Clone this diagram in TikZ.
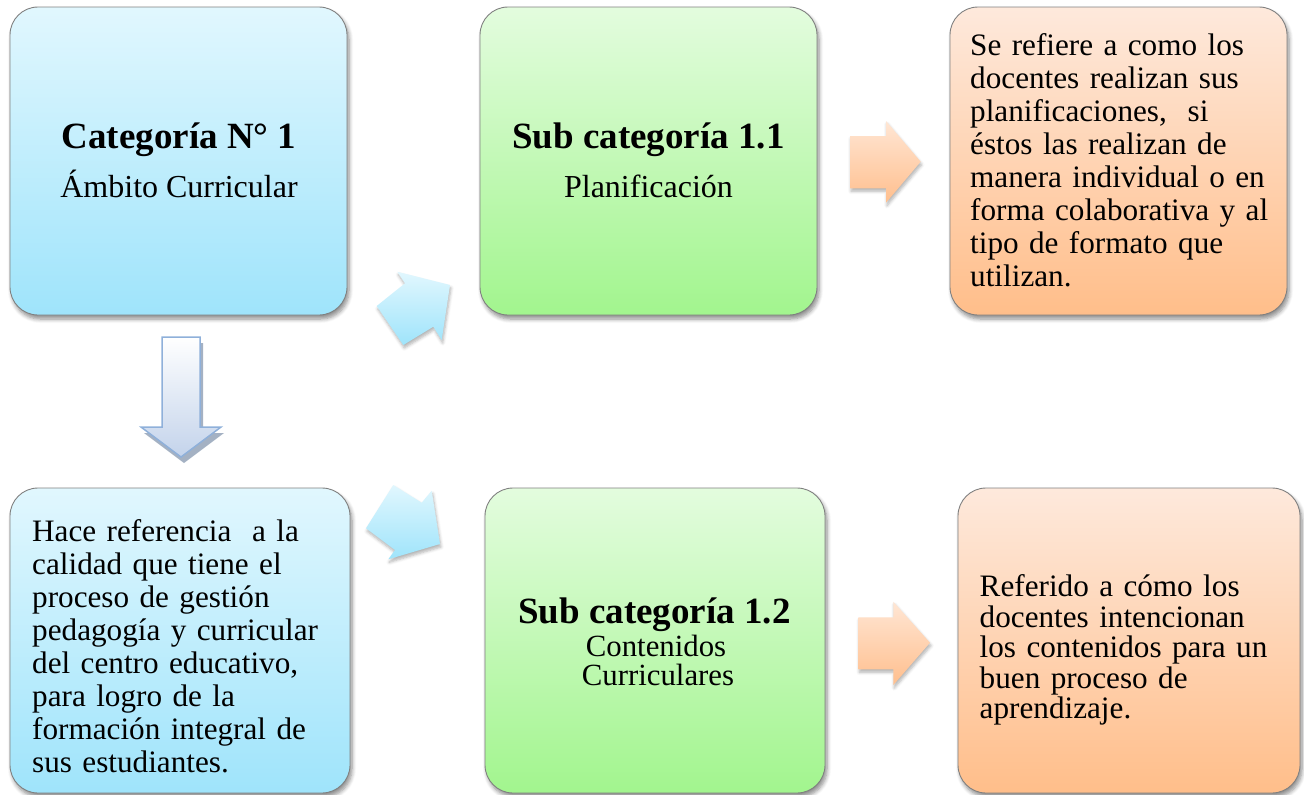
\documentclass[tikz,border=0pt]{standalone}
\usepackage{fontspec}
\setmainfont{Liberation Serif}
\usetikzlibrary{shadows,shadows.blur}
\definecolor{bluetop}{HTML}{E1F7FE}
\definecolor{bluebot}{HTML}{9FE4FB}
\definecolor{greentop}{HTML}{E3FCDE}
\definecolor{greenbot}{HTML}{A2F58E}
\definecolor{orangetop}{HTML}{FEE9DC}
\definecolor{orangebot}{HTML}{FFBE8A}
\definecolor{arrtop}{HTML}{FFE6D4}
\definecolor{arrbot}{HTML}{FFBF8E}
\definecolor{darrtop}{HTML}{FFFFFF}
\definecolor{darrbot}{HTML}{C3D3EB}
\definecolor{darrline}{HTML}{8FB0DA}
\definecolor{darrshadow}{HTML}{9AA9BD}
\begin{document}
\begin{tikzpicture}[x=1pt,y=-1pt,
  box/.style={draw=black!50, line width=0.9pt, rounded corners=28pt, inner sep=0,
    blur shadow={shadow xshift=2pt, shadow yshift=-4pt, shadow blur radius=4pt, shadow blur steps=6, shadow opacity=45}},
  bluebox/.style={box, top color=bluetop, bottom color=bluebot},
  greenbox/.style={box, top color=greentop, bottom color=greenbot},
  orangebox/.style={box, top color=orangetop, bottom color=orangebot},
  body/.style={font=\fontsize{31.2}{33.1}\selectfont, text width=340pt, align=left, inner sep=0, anchor=north west},
  ttl/.style={font=\fontsize{37}{40}\selectfont\bfseries, anchor=base, inner sep=0},
  subt/.style={font=\fontsize{32}{34}\selectfont, anchor=base, inner sep=0},
  bluearrow/.style={top color=bluetop, bottom color=bluebot, draw=none,
    blur shadow={shadow xshift=1pt, shadow yshift=-3pt, shadow blur radius=3pt, shadow blur steps=5, shadow opacity=30}},
  orangearrow/.style={top color=arrtop, bottom color=arrbot, draw=none,
    blur shadow={shadow xshift=1pt, shadow yshift=-3pt, shadow blur radius=3pt, shadow blur steps=5, shadow opacity=30}},
  downarrow/.style={top color=darrtop, bottom color=darrbot, draw=darrline, line width=1.5pt,
    drop shadow={shadow xshift=3pt, shadow yshift=-6pt, fill=darrshadow, opacity=0.9}}
]
\useasboundingbox (0,0) rectangle (1304,795);

% boxes
\node[bluebox, minimum width=337pt, minimum height=308pt] (A) at (178.5,161) {};
\node[greenbox, minimum width=337pt, minimum height=308pt] (B) at (648.5,161) {};
\node[orangebox, minimum width=337pt, minimum height=308pt] (C) at (1118.5,161) {};
\node[bluebox, minimum width=340pt, minimum height=305pt] (D) at (180,640.5) {};
\node[greenbox, minimum width=340pt, minimum height=305pt] (E) at (655,640.5) {};
\node[orangebox, minimum width=342pt, minimum height=305pt] (F) at (1129,640.5) {};

% texts
\node[ttl] (At) at (179,148) {Categoría N° 1};
\node[subt] (As) at (179,197) {Ámbito Curricular};
\node[ttl] (Bt) at (648.5,148) {Sub categoría 1.1};
\node[subt] (Bs) at (648.5,197) {Planificación};
\node[ttl] (Et) at (654.5,623) {Sub categoría 1.2};
\node[subt, font=\fontsize{30.8}{34}\selectfont] (Es1) at (656,656) {Contenidos};
\node[subt, font=\fontsize{30.8}{34}\selectfont] (Es2) at (658,685.5) {Curriculares};

\node[body] (Ct) at (970,31) {\rule{0pt}{24pt}Se refiere a como los\\docentes realizan sus\\planificaciones,\ \ si\\éstos las realizan de\\manera individual o en\\forma colaborativa y al\\tipo de formato que\\utilizan.};
\node[body] (Dt) at (32,517) {\rule{0pt}{24pt}Hace referencia\ \ a la\\calidad que tiene el\\proceso de gestión\\pedagogía y curricular\\del centro educativo,\\para logro de la\\formación integral de\\sus estudiantes.};
\node[body, font=\fontsize{31.2}{30.4}\selectfont] (Ft) at (979.5,572.7) {\rule{0pt}{24pt}Referido a cómo los\\docentes intencionan\\los contenidos para un\\buen proceso de\\aprendizaje.};

% down arrow A -> D
\path[downarrow] (162,337) -- (200,337) -- (200,427) -- (221,427) -- (181,457) -- (141,427) -- (162,427) -- cycle;

% diagonal arrow A -> B
\path[bluearrow] (450,285) -- (441.7,340) -- (433.3,326.7) -- (403.3,345) -- (376.7,306) -- (405,283.3) -- (397.3,271.7) -- cycle;

% diagonal arrow D -> E
\path[bluearrow] (393.3,485) -- (421.7,502.7) -- (431.7,490.7) -- (440,544) -- (388.3,559.3) -- (395,550) -- (366,528.3) -- cycle;

% orange arrows
\path[orangearrow] (850,136) -- (886,136) -- (886,121) -- (920.7,161.7) -- (886,202.7) -- (886,188.3) -- (850,188.3) -- cycle;
\path[orangearrow] (858.3,617.3) -- (893.3,617.3) -- (893.3,601.7) -- (930,642.7) -- (893.3,685) -- (893.3,669.3) -- (858.3,669.3) -- cycle;
\end{tikzpicture}
\end{document}
